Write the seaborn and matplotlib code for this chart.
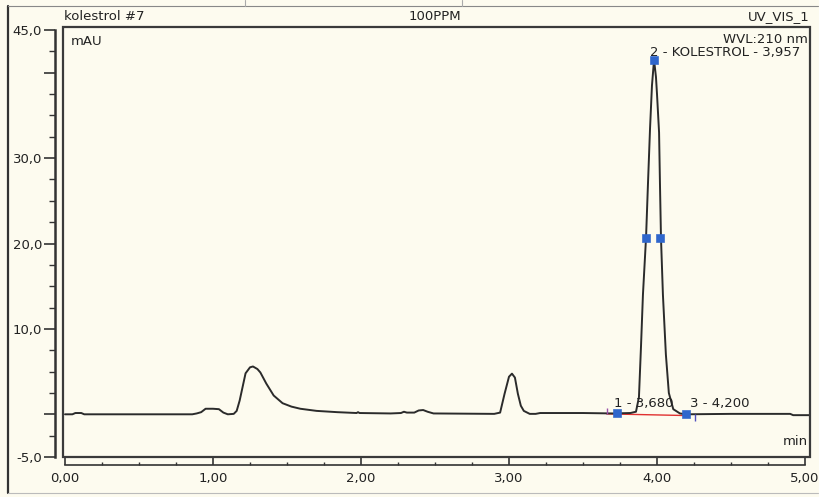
import matplotlib
matplotlib.use("Agg")
import matplotlib.pyplot as plt
import seaborn as sns
import pandas as pd
from matplotlib.patches import Rectangle
from matplotlib.lines import Line2D
from matplotlib.ticker import FixedLocator, MultipleLocator, FuncFormatter

# ---- data ----
time_min = [0.00, 0.05, 0.07, 0.11, 0.13, 0.86, 0.89, 0.92, 0.95, 1.00, 1.04, 1.07, 1.10,
            1.14, 1.16, 1.18, 1.20, 1.22, 1.25, 1.27, 1.30, 1.32, 1.36, 1.41, 1.47, 1.53,
            1.59, 1.70, 1.84, 1.97, 1.98, 1.99, 2.20, 2.27, 2.29, 2.31, 2.36, 2.39, 2.42,
            2.45, 2.49, 2.90, 2.94, 2.97, 3.00, 3.02, 3.04, 3.06, 3.08, 3.10, 3.14, 3.18,
            3.21, 3.50, 3.70, 3.82, 3.858, 3.878, 3.892, 3.905, 3.926, 3.939, 3.953, 3.966,
            3.98, 3.993, 4.00, 4.014, 4.02, 4.027, 4.04, 4.06, 4.08, 4.11, 4.155, 4.196,
            4.50, 4.90, 4.92, 5.03]
signal_mau = [0.0, 0.0, 0.15, 0.15, 0.0, 0.0, 0.1, 0.25, 0.65, 0.65, 0.6, 0.2, 0.0,
              0.05, 0.4, 1.6, 3.2, 4.8, 5.5, 5.6, 5.3, 4.9, 3.6, 2.2, 1.3, 0.9,
              0.65, 0.4, 0.25, 0.15, 0.25, 0.15, 0.1, 0.15, 0.3, 0.2, 0.2, 0.45, 0.5,
              0.3, 0.1, 0.05, 0.2, 2.4, 4.4, 4.76, 4.3, 2.4, 1.0, 0.4, 0.05, 0.05,
              0.15, 0.15, 0.1, 0.15, 0.3, 2.0, 8.0, 14.0, 20.7, 27.0, 33.5, 38.5,
              41.5, 39.5, 37.5, 33.0, 27.0, 20.6, 14.0, 7.0, 2.5, 0.6, 0.1, 0.0,
              0.05, 0.05, -0.1, -0.1]

marker_t = [3.73, 3.926, 3.98, 4.02, 4.196]
marker_y = [0.1, 20.7, 41.5, 20.6, 0.0]

baseline_t = [3.66, 4.21]
baseline_y = [0.05, -0.15]

delim_t = [3.66, 4.26]

peak_labels = ["1 - 3,680", "2 - KOLESTROL - 3,957", "3 - 4,200"]
peak_label_t = [3.71, 3.955, 4.22]
peak_label_y = [0.5, 41.6, 0.5]

ytick_major = [-5, 0, 10, 20, 30, 40, 45]
ytick_labels = {-5: "-5,0", 10: "10,0", 20: "20,0", 30: "30,0", 45: "45,0"}
xtick_major = [0, 1, 2, 3, 4, 5]

df = pd.DataFrame({"t": time_min, "mAU": signal_mau})
dm = pd.DataFrame({"t": marker_t, "mAU": marker_y})

W, H = 820, 497
bg = "#fdfbef"
FS = 9.5
sns.set_style("white")
plt.rcParams["font.family"] = ["DejaVu Sans"]
fig = plt.figure(figsize=(W / 100, H / 100), dpi=100, facecolor=bg)

L, R, T, B = 63, 810, 27, 457
ax = fig.add_axes([L / W, 1 - B / H, (R - L) / W, (B - T) / H], facecolor=bg)

sns.lineplot(data=df, x="t", y="mAU", ax=ax, color="#2b2b2b", lw=1.4,
             sort=False, estimator=None, zorder=3)
ax.plot(baseline_t, baseline_y, color="#e03030", lw=1.0, zorder=2)
sns.scatterplot(data=dm, x="t", y="mAU", ax=ax, marker="s", s=32,
                color="#2f66cc", edgecolor="#2f66cc", zorder=4)
ax.vlines(delim_t[0], 0.0, 0.7, color="#9a4fa8", lw=1.0, zorder=3)
ax.vlines(delim_t[1], -0.8, 0.0, color="#5050c0", lw=1.0, zorder=3)

px_x = 148.0
px_y = 8.54
ax.set_xlim(-2 / px_x, (R - L - 2) / px_x)
ax.set_ylim(-5, 45 + 3 / px_y)
ax.set_xlabel("")
ax.set_ylabel("")

# peak annotations
ax.text(peak_label_t[0], peak_label_y[0], peak_labels[0], fontsize=FS, color="#222",
        ha="left", va="bottom")
ax.text(peak_label_t[2], peak_label_y[2], peak_labels[2], fontsize=FS, color="#222",
        ha="left", va="bottom")
ax.text(peak_label_t[1], peak_label_y[1], peak_labels[1], fontsize=FS, color="#222",
        ha="left", va="bottom", clip_on=True)

ax.text(0.01, 0.982, "mAU", transform=ax.transAxes, fontsize=FS, color="#222",
        ha="left", va="top")
ax.text(0.997, 0.986, "WVL:210 nm", transform=ax.transAxes, fontsize=FS, color="#222",
        ha="right", va="top")
ax.text(0.997, 0.02, "min", transform=ax.transAxes, fontsize=FS, color="#222",
        ha="right", va="bottom")

# spines
for s in ["top", "right"]:
    ax.spines[s].set_visible(False)
ax.spines["left"].set_position(("outward", 6))
ax.spines["left"].set_bounds(-5, 45)
ax.spines["left"].set_linewidth(1.8)
ax.spines["left"].set_color("#333")
ax.spines["bottom"].set_position(("outward", 6))
ax.spines["bottom"].set_bounds(0, 5)
ax.spines["bottom"].set_linewidth(1.2)
ax.spines["bottom"].set_color("#333")

ax.add_patch(Rectangle((0, 0), 1, 1, transform=ax.transAxes, fill=False,
                       edgecolor="#3a3a3a", lw=1.6, clip_on=False, zorder=5))

ax.yaxis.set_major_locator(FixedLocator(ytick_major))
ax.yaxis.set_minor_locator(MultipleLocator(2.5))
ax.yaxis.set_major_formatter(FuncFormatter(lambda v, p: ytick_labels.get(int(round(v)), "")))
ax.xaxis.set_major_locator(FixedLocator(xtick_major))
ax.xaxis.set_minor_locator(MultipleLocator(0.25))
ax.xaxis.set_major_formatter(FuncFormatter(lambda v, p: f"{v:.2f}".replace(".", ",")))

ax.tick_params(axis="both", which="both", left=True, bottom=True)
ax.tick_params(axis="y", which="major", direction="out", length=8, width=1.2,
               color="#333", labelsize=FS, labelcolor="#222", pad=1)
ax.tick_params(axis="y", which="minor", direction="out", length=4, width=1.0, color="#333")
ax.tick_params(axis="x", which="major", direction="in", length=6, width=1.2,
               color="#333", labelsize=FS, labelcolor="#222", pad=5)
ax.tick_params(axis="x", which="minor", direction="in", length=2, width=1.0, color="#333")

# header
fig.text(64 / W, 1 - 17 / H, "kolestrol #7", fontsize=FS, color="#222", ha="left", va="center")
fig.text(435 / W, 1 - 17 / H, "100PPM", fontsize=FS, color="#222", ha="center", va="center")
fig.text(810 / W, 1 - 17 / H, "UV_VIS_1", fontsize=FS, color="#222", ha="right", va="center")

# outer window frame
fig.add_artist(Line2D([8 / W, 8 / W], [1 - 6 / H, 1 - 493 / H], color="#333", lw=1.6))
fig.add_artist(Line2D([8 / W, 818 / W], [1 - 6 / H, 1 - 6 / H], color="#888", lw=0.8))
fig.add_artist(Line2D([8 / W, 818 / W], [1 - 493 / H, 1 - 493 / H], color="#bbb", lw=0.8))
fig.add_artist(Line2D([245 / W, 245 / W], [1 - 0 / H, 1 - 6 / H], color="#aaa", lw=0.8))
fig.add_artist(Line2D([462 / W, 462 / W], [1 - 0 / H, 1 - 6 / H], color="#aaa", lw=0.8))

fig.savefig("out.png", dpi=100, facecolor=bg)
